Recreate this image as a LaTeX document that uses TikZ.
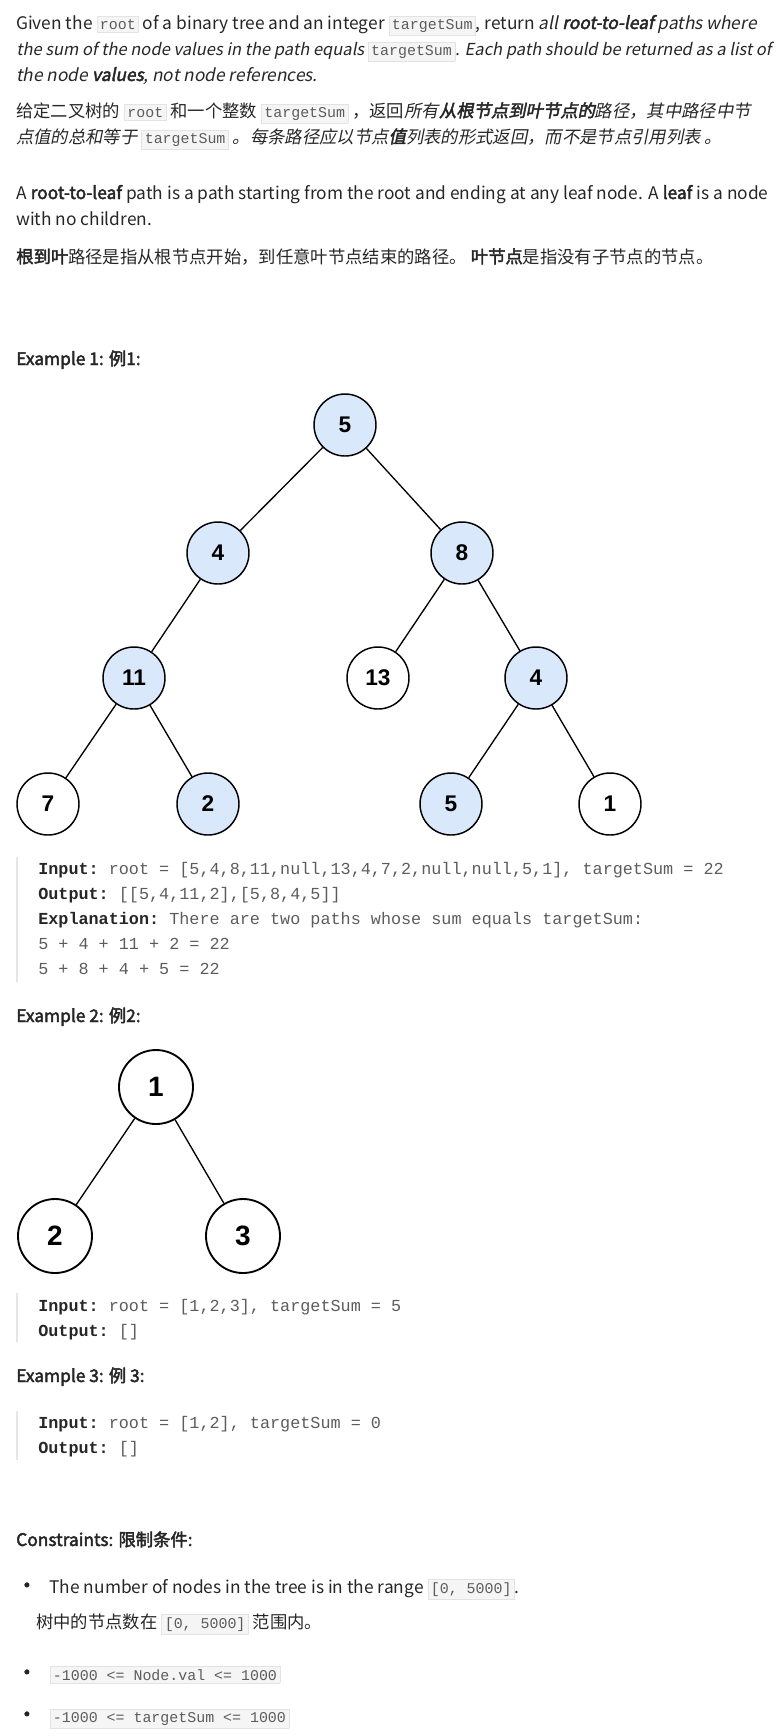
\documentclass[tikz,border=0pt]{standalone}
\usepackage{fontspec}
\usepackage{xcolor}
\setmainfont{Noto Sans CJK SC}[AutoFakeBold=2.5,AutoFakeSlant=0.2]
\setmonofont{Liberation Mono}
\newfontfamily\treefont{Liberation Sans}

\definecolor{bodytxt}{HTML}{262626}
\definecolor{codetxt}{HTML}{5C5C5C}
\definecolor{codebg}{HTML}{F5F5F5}
\definecolor{codeborder}{HTML}{E3E3E3}
\definecolor{barcol}{HTML}{E6E6E6}
\definecolor{pathfill}{HTML}{DAE8FC}

\newcommand{\code}[1]{{\setlength{\fboxsep}{2pt}\setlength{\fboxrule}{0.5pt}\fcolorbox{codeborder}{codebg}{\ttfamily\upshape\mdseries\fontsize{11.2}{12}\selectfont\color{codetxt}#1}}}
\newcommand{\lbl}[1]{{\bfseries\color{bodytxt}#1}}
\newcommand{\bul}{{\fontsize{16}{16}\selectfont\textbf{·}}\hspace{9pt}}

\begin{document}
\begin{tikzpicture}[x=0.75pt,y=0.75pt,yscale=-1,xscale=1,
  txt/.style={anchor=base west,inner sep=0pt,text=bodytxt,font=\fontsize{13}{15}\selectfont},
  cd/.style={anchor=base west,inner sep=0pt,text=codetxt,font=\ttfamily\fontsize{12.6}{14}\selectfont},
  tn/.style={circle,draw,line width=1.1pt,minimum size=46.5pt,inner sep=0pt,font=\treefont\bfseries\fontsize{17}{19}\selectfont},
  tb/.style={tn,minimum size=55.5pt,line width=1.4pt,font=\treefont\bfseries\fontsize{21}{23}\selectfont},
  hit/.style={fill=pathfill},
  edge/.style={line width=1pt},
  bar/.style={line width=1.6pt,barcol}]

\useasboundingbox (0,0) rectangle (782,1736);

% description
\node[txt] (d1) at (16,29) {Given the \code{root} of a binary tree and an integer \code{targetSum}, return \textit{all \textbf{root-to-leaf} paths where}};
\node[txt,font=\fontsize{12.4}{15}\selectfont] (d2) at (16,55) {\textit{the sum of the node values in the path equals \code{targetSum}. Each path should be returned as a list of}};
\node[txt] (d3) at (16,81) {\textit{the node \textbf{values}, not node references.}};
\node[txt] (d4) at (16,117) {给定二叉树的 \code{root} 和一个整数 \code{targetSum} ，返回\textit{所有\textbf{从根节点到叶节点的}路径，其中路径中节}};
\node[txt] (d5) at (16,143) {\textit{点值的总和等于 \code{targetSum} 。每条路径应以节点\textbf{值}列表的形式返回，而不是节点引用列表 。}};
\node[txt] (d6) at (16,199) {A \textbf{root-to-leaf} path is a path starting from the root and ending at any leaf node. A \textbf{leaf} is a node};
\node[txt] (d7) at (16,225) {with no children.};
\node[txt] (d8) at (16,263) {\textbf{根到叶}路径是指从根节点开始，到任意叶节点结束的路径。 \textbf{叶节点}是指没有子节点的节点。};

% example 1
\node[txt] (h1) at (16,365) {\textbf{Example 1:  例1:}};
\node[tn,hit] (r) at (345,425) {5};
\node[tn,hit] (a) at (218,553) {4};
\node[tn,hit] (b) at (462,553) {8};
\node[tn,hit] (aa) at (134,678) {11};
\node[tn] (ba) at (378,678) {13};
\node[tn,hit] (bb) at (536,678) {4};
\node[tn] (aaa) at (48,804) {7};
\node[tn,hit] (aab) at (208,804) {2};
\node[tn,hit] (bba) at (451,804) {5};
\node[tn] (bbb) at (610,804) {1};
\foreach \p/\c in {r/a,r/b,a/aa,b/ba,b/bb,aa/aaa,aa/aab,bb/bba,bb/bbb}
  \draw[edge] (\p) -- (\c);

\draw[bar] (17,857) -- (17,982);
\node[cd] (i1) at (38,874) {\lbl{Input:} root = [5,4,8,11,null,13,4,7,2,null,null,5,1], targetSum = 22};
\node[cd] (o1) at (38,899) {\lbl{Output:} [[5,4,11,2],[5,8,4,5]]};
\node[cd] (e1) at (38,924) {\lbl{Explanation:} There are two paths whose sum equals targetSum:};
\node[cd] (e2) at (38,949) {5 + 4 + 11 + 2 = 22};
\node[cd] (e3) at (38,974) {5 + 8 + 4 + 5 = 22};

% example 2
\node[txt] (h2) at (16,1022) {\textbf{Example 2:  例2:}};
\node[tb] (s) at (156,1087) {1};
\node[tb] (sl) at (55,1236) {2};
\node[tb] (sr) at (243,1236) {3};
\draw[edge] (s) -- (sl);
\draw[edge] (s) -- (sr);

\draw[bar] (17,1293) -- (17,1342);
\node[cd] (i2) at (38,1311) {\lbl{Input:} root = [1,2,3], targetSum = 5};
\node[cd] (o2) at (38,1336) {\lbl{Output:} []};

% example 3
\node[txt] (h3) at (16,1382) {\textbf{Example 3:  例 3:}};
\draw[bar] (17,1411) -- (17,1460);
\node[cd] (i3) at (38,1428) {\lbl{Input:} root = [1,2], targetSum = 0};
\node[cd] (o3) at (38,1453) {\lbl{Output:} []};

% constraints
\node[txt] (h4) at (16,1546) {\textbf{Constraints:  限制条件:}};
\node[txt] (c1) at (16,1593) {\bul The number of nodes in the tree is in the range \code{[0, 5000]}.};
\node[txt] (c2) at (36,1628) {树中的节点数在 \code{[0, 5000]} 范围内。};
\node[txt] (c3) at (16,1680) {\bul\code{-1000 <= Node.val <= 1000}};
\node[txt] (c4) at (16,1722) {\bul\code{-1000 <= targetSum <= 1000}};

\end{tikzpicture}
\end{document}
